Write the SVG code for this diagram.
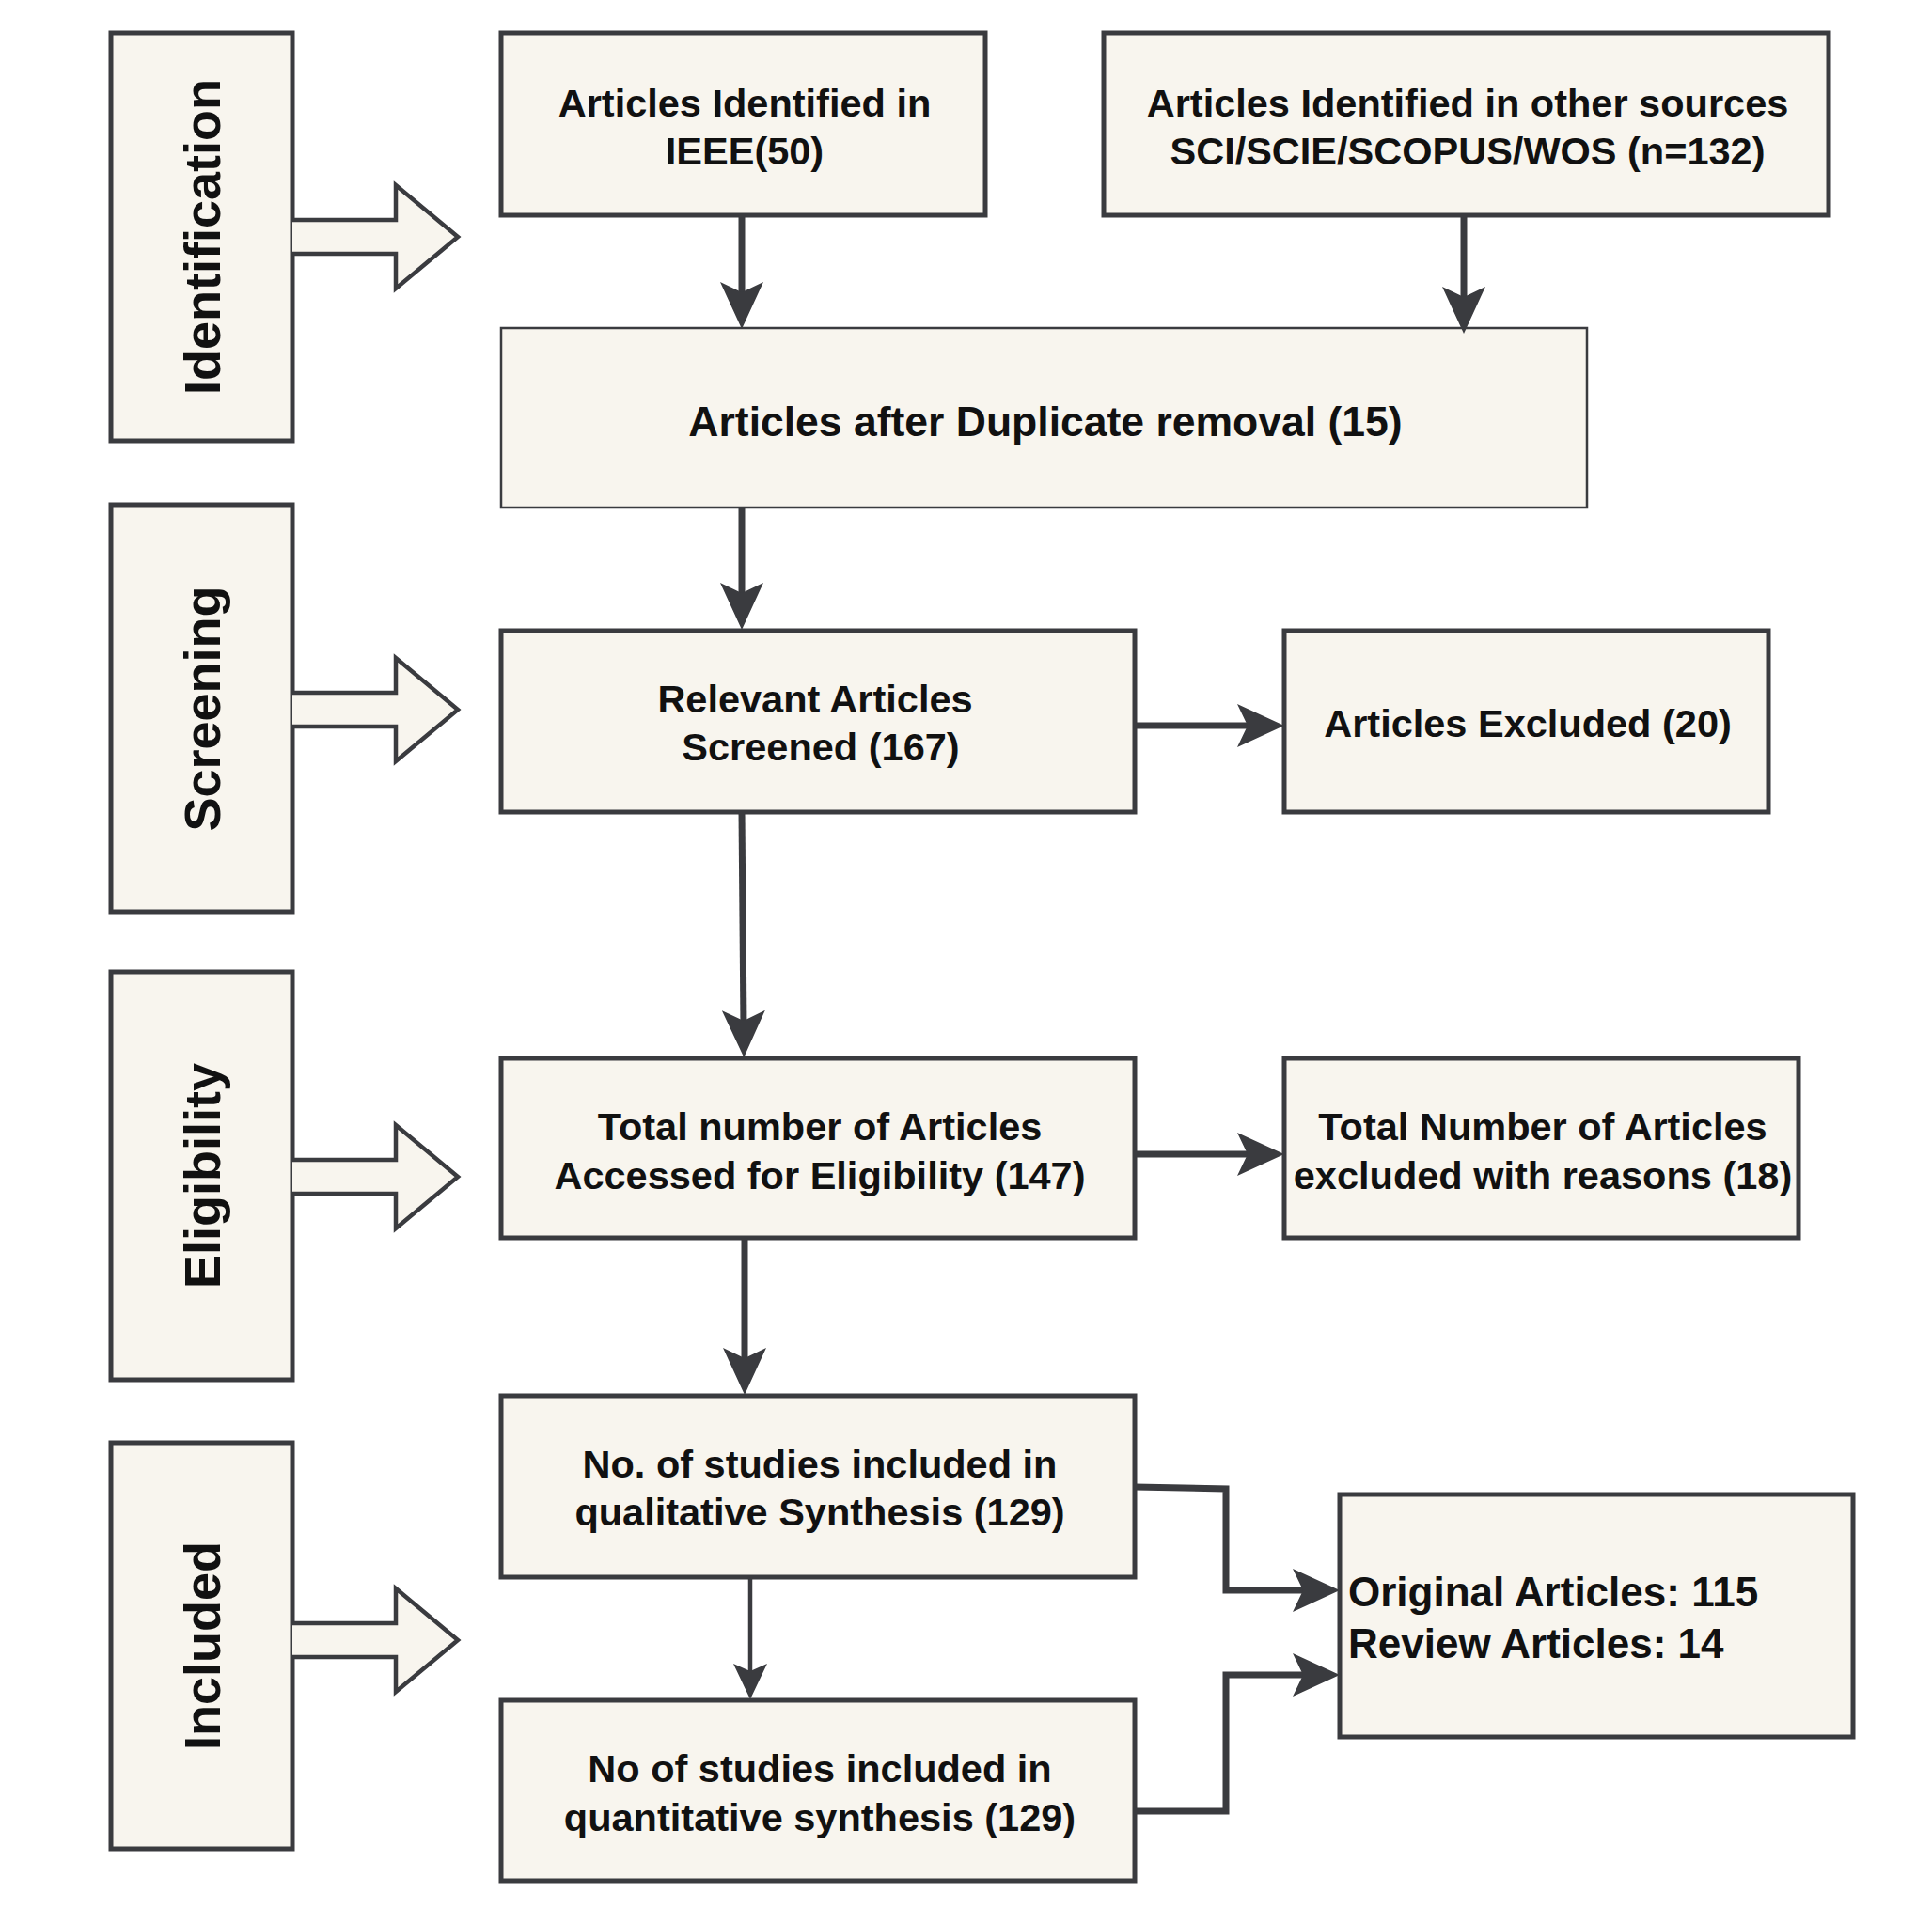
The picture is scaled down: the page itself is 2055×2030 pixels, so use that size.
<svg xmlns="http://www.w3.org/2000/svg" width="2055" height="2030" viewBox="0 0 2055 2030">
<defs>
<style>
.box{fill:#f8f5ee;stroke:#3a3b3f;stroke-width:5}
.thin{fill:#f8f5ee;stroke:#3a3b3f;stroke-width:2.5}
.harrow{fill:#f8f5ee;stroke:#3a3b3f;stroke-width:4.5;stroke-linejoin:miter}
.t{font-family:"Liberation Sans",Arial,sans-serif;font-weight:bold;font-size:41.5px;fill:#111;text-anchor:middle}
.tl{font-family:"Liberation Sans",Arial,sans-serif;font-weight:bold;font-size:44px;fill:#111}
.ph{font-family:"Liberation Sans",Arial,sans-serif;font-weight:bold;font-size:54px;fill:#111;text-anchor:middle}
.conn{fill:none;stroke:#3a3b3f;stroke-width:7;stroke-linejoin:miter}
.conns{fill:none;stroke:#3a3b3f;stroke-width:4.5}
</style>
<marker id="ah" markerUnits="userSpaceOnUse" viewBox="0 0 50 46" markerWidth="50" markerHeight="46" refX="18" refY="23" orient="auto">
<path d="M0,0 L50,23 L0,46 L11,23 Z" fill="#3a3b3f"/>
</marker>
<marker id="ahs" markerUnits="userSpaceOnUse" viewBox="0 0 38 36" markerWidth="38" markerHeight="36" refX="14" refY="18" orient="auto">
<path d="M0,0 L38,18 L0,36 L8,18 Z" fill="#3a3b3f"/>
</marker>
</defs>
<rect width="2055" height="2030" fill="#ffffff"/>

<g id="phase-identification">
<rect class="box" x="118" y="35" width="193" height="434"/>
<text class="ph" x="0" y="0" transform="translate(234,252) rotate(-90)">Identification</text>
<path class="harrow" d="M311,234 H421 V197 L487,252 L421,307 V270 H311"/>
</g>
<g id="phase-screening">
<rect class="box" x="118" y="537" width="193" height="433"/>
<text class="ph" x="0" y="0" transform="translate(234,754) rotate(-90)">Screening</text>
<path class="harrow" d="M311,737 H421 V700 L487,755 L421,810 V773 H311"/>
</g>
<g id="phase-eligibility">
<rect class="box" x="118" y="1034" width="193" height="434"/>
<text class="ph" x="0" y="0" transform="translate(234,1251) rotate(-90)">Eligibility</text>
<path class="harrow" d="M311,1234 H421 V1197 L487,1252 L421,1307 V1270 H311"/>
</g>
<g id="phase-included">
<rect class="box" x="118" y="1535" width="193" height="432"/>
<text class="ph" x="0" y="0" transform="translate(234,1751) rotate(-90)">Included</text>
<path class="harrow" d="M311,1727 H421 V1690 L487,1745 L421,1800 V1763 H311"/>
</g>

<g id="ieee">
<rect class="box" x="533" y="35" width="515" height="194"/>
<text class="t" x="792" y="124">Articles Identified in</text>
<text class="t" x="792" y="175">IEEE(50)</text>
</g>
<g id="other-sources">
<rect class="box" x="1174" y="35" width="771" height="194"/>
<text class="t" x="1561" y="124">Articles Identified in other sources</text>
<text class="t" x="1561" y="175">SCI/SCIE/SCOPUS/WOS (n=132)</text>
</g>
<g id="duplicate-removal">
<rect class="thin" x="533" y="349" width="1155" height="191"/>
<text class="t" style="font-size:44.5px" x="1112" y="464">Articles after Duplicate removal (15)</text>
</g>
<g id="screened">
<rect class="box" x="533" y="671" width="674" height="193"/>
<text class="t" x="867" y="758">Relevant Articles</text>
<text class="t" x="873" y="809">Screened (167)</text>
</g>
<g id="excluded">
<rect class="box" x="1366" y="671" width="515" height="193"/>
<text class="t" x="1625" y="784">Articles Excluded (20)</text>
</g>
<g id="eligibility-assessed">
<rect class="box" x="533" y="1126" width="674" height="191"/>
<text class="t" x="872" y="1213">Total number of Articles</text>
<text class="t" x="872" y="1265">Accessed for Eligibility (147)</text>
</g>
<g id="excluded-reasons">
<rect class="box" x="1366" y="1126" width="547" height="191"/>
<text class="t" x="1641" y="1213">Total Number of Articles</text>
<text class="t" x="1641" y="1265">excluded with reasons (18)</text>
</g>
<g id="qualitative">
<rect class="box" x="533" y="1485" width="674" height="193"/>
<text class="t" x="872" y="1572">No. of studies included in</text>
<text class="t" x="872" y="1623">qualitative Synthesis (129)</text>
</g>
<g id="quantitative">
<rect class="box" x="533" y="1809" width="674" height="192"/>
<text class="t" x="872" y="1896">No of studies included in</text>
<text class="t" x="872" y="1948">quantitative synthesis (129)</text>
</g>
<g id="result">
<rect class="box" x="1425" y="1590" width="546" height="258"/>
<text class="tl" x="1434" y="1709">Original Articles: 115</text>
<text class="tl" x="1434" y="1764">Review Articles: 14</text>
</g>

<g id="connectors">
<path class="conn" d="M789,229 V318" marker-end="url(#ah)"/>
<path class="conn" d="M1557,229 V323" marker-end="url(#ah)"/>
<path class="conn" d="M789,540 V638" marker-end="url(#ah)"/>
<path class="conn" d="M1207,772 H1334" marker-end="url(#ah)"/>
<path class="conn" d="M789,864 L791,1093" marker-end="url(#ah)"/>
<path class="conn" d="M1207,1228 H1334" marker-end="url(#ah)"/>
<path class="conn" d="M792,1317 V1452" marker-end="url(#ah)"/>
<path class="conns" d="M798,1678 V1784" marker-end="url(#ahs)"/>
<path class="conn" d="M1207,1582 L1304,1584 V1692 H1393" marker-end="url(#ah)"/>
<path class="conn" d="M1207,1927 H1304 V1782 H1393" marker-end="url(#ah)"/>
</g>
</svg>
